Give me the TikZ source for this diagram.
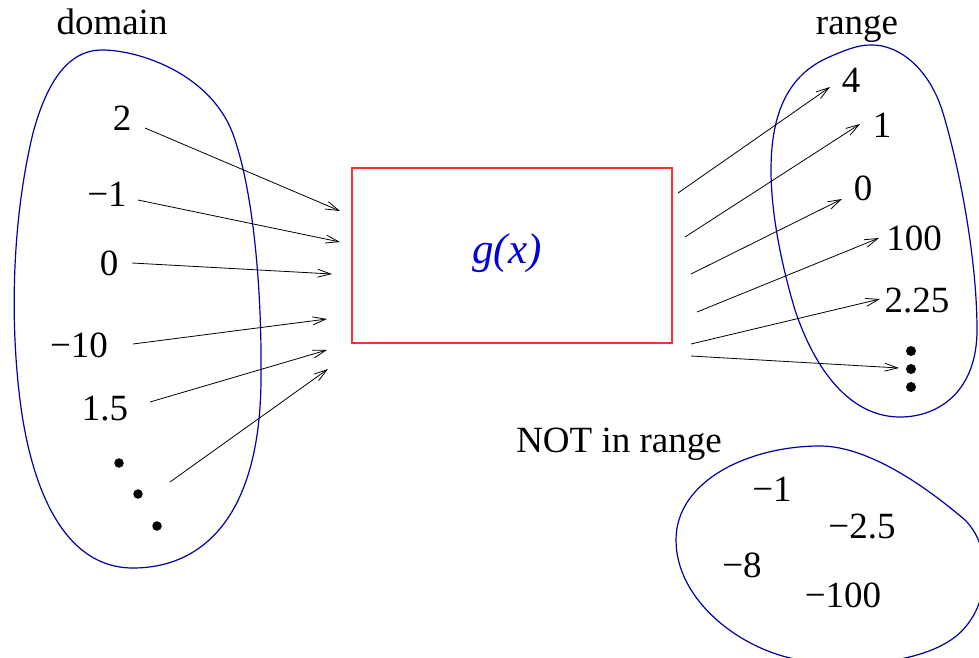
\documentclass[tikz,border=0pt]{standalone}
\usepackage{fontspec}
\setmainfont{Liberation Serif}
\usetikzlibrary{arrows.meta}
\definecolor{blobblue}{RGB}{0,0,165}
\definecolor{gblue}{RGB}{0,0,215}
\definecolor{boxred}{RGB}{255,50,50}
\begin{document}
\begin{tikzpicture}[x=1pt,y=-1pt,
  lbl/.style={anchor=base,inner sep=0pt,font=\fontsize{37}{44}\selectfont},
  blob/.style={draw=blobblue,line width=1.2pt},
  mapto/.style={draw=black,line width=0.8pt,-{Straight Barb[length=13pt,width=8pt,line width=0.8pt]}},
  dotmark/.style={circle,fill=black,inner sep=0pt,minimum size=9.5pt}]
\useasboundingbox (0,0) rectangle (979,658);
\fill[white] (0,0) rectangle (979,658);
\begin{scope}
\clip (0,0) rectangle (979,658);
% domain blob
\draw[blob] (102,50) .. controls (140,50) and (215,75) .. (235,140)
  .. controls (255,200) and (262,300) .. (261,380)
  .. controls (260,520) and (200,568) .. (133,568)
  .. controls (60,568) and (30,480) .. (20,400)
  .. controls (10,320) and (12,220) .. (33,133)
  .. controls (50,70) and (75,50) .. (102,50) -- cycle;
% range blob
\draw[blob] (870,45) .. controls (900,44) and (930,70) .. (943,113)
  .. controls (960,170) and (977,260) .. (977,330)
  .. controls (977,390) and (940,417) .. (900,417)
  .. controls (850,417) and (815,370) .. (795,310)
  .. controls (780,260) and (771,210) .. (771,170)
  .. controls (771,110) and (790,75) .. (827,58)
  .. controls (845,50) and (858,45) .. (870,45) -- cycle;
% not-in-range blob
\draw[blob] (820,446) .. controls (870,446) and (930,490) .. (965,520)
  .. controls (995,550) and (990,610) .. (955,637)
  .. controls (920,664) and (850,668) .. (800,660)
  .. controls (740,650) and (676,600) .. (676,540)
  .. controls (676,480) and (750,446) .. (820,446) -- cycle;
\end{scope}
% function box
\node[draw=boxred,line width=2pt,minimum width=320pt,minimum height=175pt,inner sep=0pt] (box) at (512,255.5) {};
\node[lbl,text=gblue,font=\fontsize{43}{50}\selectfont] (g) at (507,263) {\itshape g(x)};
% titles
\node[lbl] (domain) at (112,35) {domain};
\node[lbl] (range) at (857,35) {range};
\node[lbl] (notin) at (619,452) {NOT in range};
% domain elements
\node[lbl] (d1) at (122,130) {2};
\node[lbl] (d2) at (107,206) {−1};
\node[lbl] (d3) at (109,275) {0};
\node[lbl] (d4) at (79,357) {−10};
\node[lbl] (d5) at (105,420) {1.5};
\node[dotmark] (dd1) at (119,463) {};
\node[dotmark] (dd2) at (138,494) {};
\node[dotmark] (dd3) at (157,526) {};
% range elements
\node[lbl] (r1) at (851,93) {4};
\node[lbl] (r2) at (882,137) {1};
\node[lbl] (r3) at (863,200) {0};
\node[lbl] (r4) at (914,250) {100};
\node[lbl] (r5) at (917,312) {2.25};
\node[dotmark,minimum size=10pt] (rd1) at (911,351) {};
\node[dotmark,minimum size=10pt] (rd2) at (911,369) {};
\node[dotmark,minimum size=10pt] (rd3) at (911,387) {};
% not in range
\node[lbl] (n1) at (772,501) {−1};
\node[lbl] (n2) at (862,538) {−2.5};
\node[lbl] (n3) at (742,577) {−8};
\node[lbl] (n4) at (843,607) {−100};
% arrow end points
\coordinate (a1) at (145,128); \coordinate (b1) at (340,211);
\coordinate (a2) at (138,200); \coordinate (b2) at (340,242);
\coordinate (a3) at (132,263); \coordinate (b3) at (332,274);
\coordinate (a4) at (133,344); \coordinate (b4) at (327,319);
\coordinate (a5) at (150,402); \coordinate (b5) at (327,350);
\coordinate (a6) at (170,482); \coordinate (b6) at (328,369);
\coordinate (c1) at (678,193); \coordinate (e1) at (830,87);
\coordinate (c2) at (685,237); \coordinate (e2) at (860,124);
\coordinate (c3) at (691,274); \coordinate (e3) at (842,199);
\coordinate (c4) at (697,312); \coordinate (e4) at (879,238);
\coordinate (c5) at (691,344); \coordinate (e5) at (880,299);
\coordinate (c6) at (691,356); \coordinate (e6) at (899,368);
\foreach \i in {1,...,6}{
  \draw[mapto] (a\i) -- (b\i);
  \draw[mapto] (c\i) -- (e\i);
}
\end{tikzpicture}
\end{document}
